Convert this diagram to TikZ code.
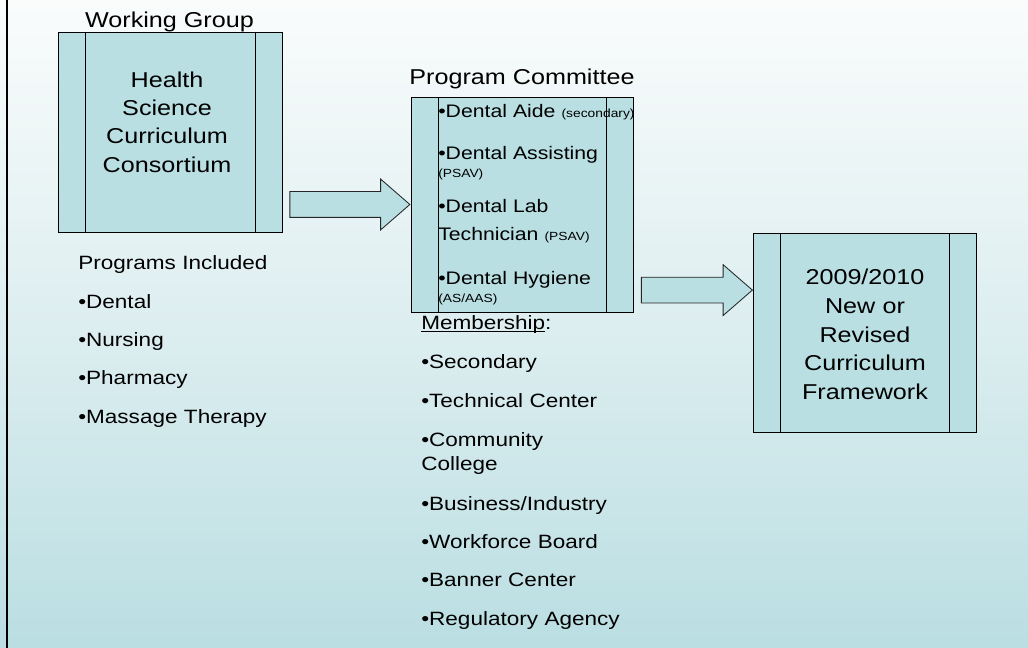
\documentclass[tikz,border=0pt]{standalone}
\usepackage{fontspec}
\setmainfont{Liberation Sans}[FakeStretch=1.17]
\usetikzlibrary{shapes.arrows}
\newdimen\px \px=0.25mm
\definecolor{bgtop}{RGB}{250,252,252}
\definecolor{bgmid}{RGB}{221,238,240}
\definecolor{bgbot}{RGB}{186,222,226}
\definecolor{panelfill}{RGB}{185,223,227}
\newcommand{\smallnote}[1]{{\fontsize{8.4}{10}\selectfont #1}}
% a close underline, the way the slide sets it
\newcommand{\ulword}[1]{\setbox0\hbox{#1}\rlap{\rule[-1.5pt]{\wd0}{0.6pt}}#1}

\begin{document}
\begin{tikzpicture}[x=0.25mm, y=-0.25mm,
  panel/.style={draw=black, fill=panelfill, line width=0.7pt, inner sep=0pt,
    path picture={
      \draw[line width=0.7pt] ([xshift=27\px]path picture bounding box.north west)
        -- ([xshift=27\px]path picture bounding box.south west);
      \draw[line width=0.7pt] ([xshift=-27\px]path picture bounding box.north east)
        -- ([xshift=-27\px]path picture bounding box.south east);}},
  title/.style={anchor=base, inner sep=0pt, font=\fontsize{15.3}{20}\selectfont},
  boxtext/.style={anchor=base, inner sep=0pt, align=center, text width=45mm,
                  font=\fontsize{15.3}{20.1}\selectfont},
  listitem/.style={anchor=base west, inner sep=0pt, align=left, text width=70mm,
                   font=\fontsize{13.7}{17.1}\selectfont},
  pcitem/.style={anchor=base west, inner sep=0pt, align=left, text width=70mm,
                 font=\fontsize{12.9}{19.7}\selectfont},
  fatarrow/.style={single arrow, draw=black!85, fill=panelfill, line width=0.6pt,
                   inner xsep=0pt, inner ysep=12.5\px, minimum width=50\px,
                   single arrow head extend=12.5\px, single arrow tip angle=82,
                   anchor=tip}]
  \useasboundingbox (0,0) rectangle (1028,648);
  % slide background and left edge
  \shade[top color=bgtop, bottom color=bgbot, middle color=bgmid] (0,0) rectangle (1028,648);
  \draw[line width=2\px] (7,0) -- (7,648);
  % the three blocks
  \node[panel, minimum width=224\px, minimum height=200\px] (wg) at (170,132) {};
  \node[panel, minimum width=222\px, minimum height=215\px] (pc) at (522,204.5) {};
  \node[panel, minimum width=223\px, minimum height=199\px] (fw) at (865,332.5) {};
  \node[title] (wgtitle) at (169.5,27.7) {Working Group};
  \node[title] (pctitle) at (522,84.3) {Program Committee};
  \node[boxtext] (wgtext) at (167,87.3) {Health\\Science\\Curriculum\\Consortium};
  \node[boxtext, font=\fontsize{15.3}{20.3}\selectfont] (fwtext) at (865,285)
    {2009/2010\\New or\\Revised\\Curriculum\\Framework};
  % block arrows between them
  \node[fatarrow, minimum height=120\px] (ar1) at (pc.west) {};
  \node[fatarrow, minimum height=111\px] (ar2) at ([yshift=10.6mm]fw.west) {};
  % programs under the working group
  \node[listitem] (prog) at (78,270) {Programs Included};
  \node[listitem] (prog1) at (78,308.3) {•Dental};
  \node[listitem] (prog2) at (78,346.7) {•Nursing};
  \node[listitem] (prog3) at (78,385) {•Pharmacy};
  \node[listitem] (prog4) at (78,423.3) {•Massage Therapy};
  % dental programs inside the committee block
  \node[pcitem] (pc1) at (438,117.3) {•Dental Aide \smallnote{(secondary)}};
  \node[pcitem] (pc2) at (438,160) {•Dental Assisting\\[-6.9pt]\smallnote{(PSAV)}};
  \node[pcitem] (pc3) at (438,213) {•Dental Lab\\Technician \smallnote{(PSAV)}};
  \node[pcitem] (pc4) at (438,285) {•Dental Hygiene\\[-6.9pt]\smallnote{(AS/AAS)}};
  % committee membership
  \node[listitem] (mem) at (421,330) {\ulword{Membership}:};
  \node[listitem] (mem1) at (421,368.3) {•Secondary};
  \node[listitem] (mem2) at (421,407.3) {•Technical Center};
  \node[listitem] (mem3) at (421,446.7) {•Community\\College};
  \node[listitem] (mem4) at (421,510) {•Business/Industry};
  \node[listitem] (mem5) at (421,548.3) {•Workforce Board};
  \node[listitem] (mem6) at (421,586.7) {•Banner Center};
  \node[listitem] (mem7) at (421,625) {•Regulatory Agency};
\end{tikzpicture}
\end{document}
